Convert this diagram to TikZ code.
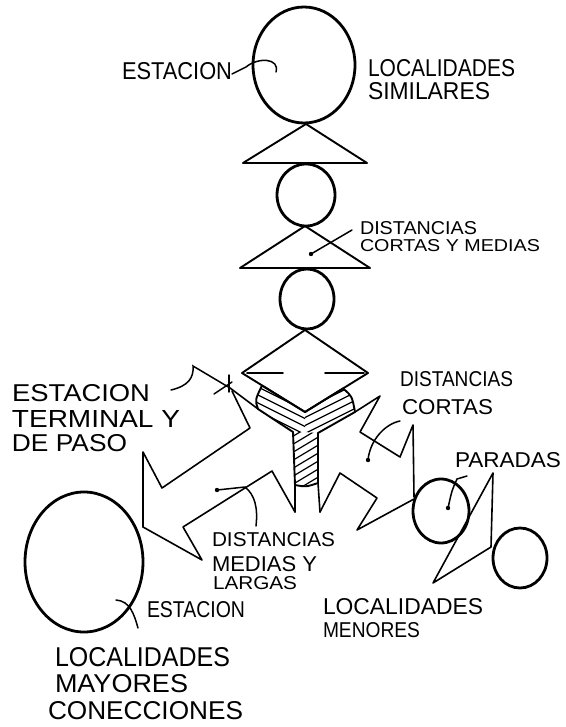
\documentclass[tikz,border=0pt]{standalone}
\usepackage{fontspec}
\setmainfont{Liberation Sans}
\usepackage{graphicx}
\usetikzlibrary{shapes.geometric}
\newcommand\lbl[3]{\resizebox{#1pt}{#2pt}{#3}}
\begin{document}
\begin{tikzpicture}[x=1pt,y=-1pt,
  circ/.style={draw,ellipse,line width=2.8pt,inner sep=0pt},
  tri/.style={line width=1.9pt,line join=round},
  bolt/.style={line width=1.6pt,line join=round,line cap=round},
  lead/.style={line width=1.5pt,line cap=round},
  hatch/.style={line width=1.2pt},
  txt/.style={anchor=south west,inner sep=0pt,outer sep=0pt},
  dotm/.style={fill=black}]
\useasboundingbox (0,0) rectangle (565,727);

% circles
\node[circ,minimum width=102pt,minimum height=116pt] (c1) at (304,65) {};
\node[circ,minimum width=58pt,minimum height=62pt] (c2) at (306,195) {};
\node[circ,minimum width=54pt,minimum height=60pt] (c3) at (307,299) {};
\node[circ,minimum width=118pt,minimum height=140pt] (c4) at (84,562) {};
\node[circ,minimum width=56pt,minimum height=64pt] (c5) at (441,511) {};
\node[circ,minimum width=54pt,minimum height=60pt] (c6) at (520,558) {};

% triangles
\draw[tri] (306,124) -- (367,163) -- (243,163) -- cycle;
\draw[tri] (305,226) -- (370,268) -- (240,268) -- cycle;

% diamond
\coordinate (dt) at (305,330);
\coordinate (dl) at (242,373);
\coordinate (dr) at (368,373);
\coordinate (B) at (305,412);
\draw[tri] (dt) -- (dr) -- (B) -- (dl) -- cycle;
\draw[bolt] (283,373) -- (247,373);
\draw[bolt] (325,373) -- (364,373);

% Y shape
\coordinate (A) at (262,385.5);
\coordinate (C) at (343,388.5);
\coordinate (D) at (355,412);
\coordinate (E) at (318,433);
\coordinate (F) at (318,483);
\coordinate (G) at (295,485);
\coordinate (H) at (293,432);
\coordinate (I) at (258,409);
\coordinate (M) at (305,432);
\begin{scope}
\clip (A) -- (B) -- (M) -- (H) -- (I) .. controls (255,400) .. (A) -- cycle;
\foreach \i in {-70,-62,...,70} \draw[hatch] (220,390+\i) -- ++(120,60);
\end{scope}
\begin{scope}
\clip (B) -- (C) .. controls (352,396) .. (D) -- (E) -- (M) -- cycle;
\foreach \i in {-70,-62,...,70} \draw[hatch] (280,420+\i) -- ++(100,-50);
\end{scope}
\begin{scope}
\clip (H) -- (M) -- (E) -- (F) .. controls (306,487) .. (G) -- cycle;
\foreach \i in {-20,-12,...,90} \draw[hatch] (280,440+\i) -- ++(60,-36);
\end{scope}
\draw[tri] (A) -- (B) -- (C) .. controls (352,396) .. (D) -- (E) -- (F)
  .. controls (306,487) .. (G) -- (H) -- (I) .. controls (255,400) .. (A);
\coordinate (sl) at (295,512);
\coordinate (sr) at (320,512);
\draw[bolt] (G) -- (sl);
\draw[bolt] (F) -- (sr);

% left bolt
\coordinate (X) at (230,388);
\draw[bolt] (X) -- (I);
\draw[bolt] (232,391) -- (250,428) -- (162,488) -- (143,452) -- (143,527);
\draw[bolt] (sl) -- (272,471) -- (183,527) -- (202,560) -- (143,527);

% right bolt
\draw[bolt] (D) -- (380,396) -- (360,432) -- (400,457) -- (413,425) -- (414,497);
\draw[bolt] (sr) -- (340,473) -- (377,498) -- (357,530) -- (414,499);

% paradas zigzag
\draw[bolt] (493,473) -- (433,583) -- (491,547) -- cycle;

% leaders
\draw[lead] (232,74) -- (246,67) .. controls (258,57) and (280,58) .. (276,72);
\draw[lead] (352,230) -- (311,254);
\fill[dotm] (311,254) circle (2.2pt);
\draw[lead] (171,390) .. controls (188,386) and (194,378) .. (193,366) -- (X);
\draw[lead] (214,394) -- (232,382);
\draw[lead] (229,375) -- (229,392);
\draw[lead] (400,421) .. controls (385,424) and (370,440) .. (368,460);
\fill[dotm] (368,460) circle (2.2pt);
\draw[lead] (467,476) -- (457,479) .. controls (452,490) .. (448,508);
\fill[dotm] (448,508) circle (2.2pt);
\draw[lead] (217,490) -- (245,487) .. controls (255,495) and (258,508) .. (256,526);
\fill[dotm] (217,490) circle (2.2pt);
\draw[lead] (116,600) .. controls (130,601) and (134,614) .. (138,628);

% labels
\node[txt] (t1) at (122,80) {\lbl{110}{17}{ESTACION}};
\node[txt] (t2) at (368,77) {\lbl{147}{17}{LOCALIDADES}};
\node[txt] (t3) at (368,100) {\lbl{122}{17}{SIMILARES}};
\node[txt] (t4) at (360,235) {\lbl{117}{13}{DISTANCIAS}};
\node[txt] (t5) at (360,252) {\lbl{180}{12}{CORTAS Y MEDIAS}};
\node[txt] (t6) at (12,402) {\lbl{138}{17}{ESTACION}};
\node[txt] (t7) at (12,427) {\lbl{168}{17}{TERMINAL Y}};
\node[txt] (t8) at (12,452) {\lbl{115}{17}{DE PASO}};
\node[txt] (t9) at (400,387) {\lbl{113}{15}{DISTANCIAS}};
\node[txt] (t10) at (402,415) {\lbl{91}{15}{CORTAS}};
\node[txt] (t11) at (455,468) {\lbl{106}{15}{PARADAS}};
\node[txt] (t12) at (212,547) {\lbl{123}{14}{DISTANCIAS}};
\node[txt] (t13) at (212,572) {\lbl{105}{15}{MEDIAS Y}};
\node[txt] (t14) at (213,590) {\lbl{84}{13}{LARGAS}};
\node[txt] (t15) at (147,618) {\lbl{98}{16}{ESTACION}};
\node[txt] (t16) at (55,667) {\lbl{175}{19}{LOCALIDADES}};
\node[txt] (t17) at (55,693) {\lbl{133}{18}{MAYORES}};
\node[txt] (t18) at (48,720) {\lbl{195}{18}{CONECCIONES}};
\node[txt] (t19) at (323,615) {\lbl{160}{16}{LOCALIDADES}};
\node[txt] (t20) at (323,638) {\lbl{97}{15}{MENORES}};
\end{tikzpicture}
\end{document}
